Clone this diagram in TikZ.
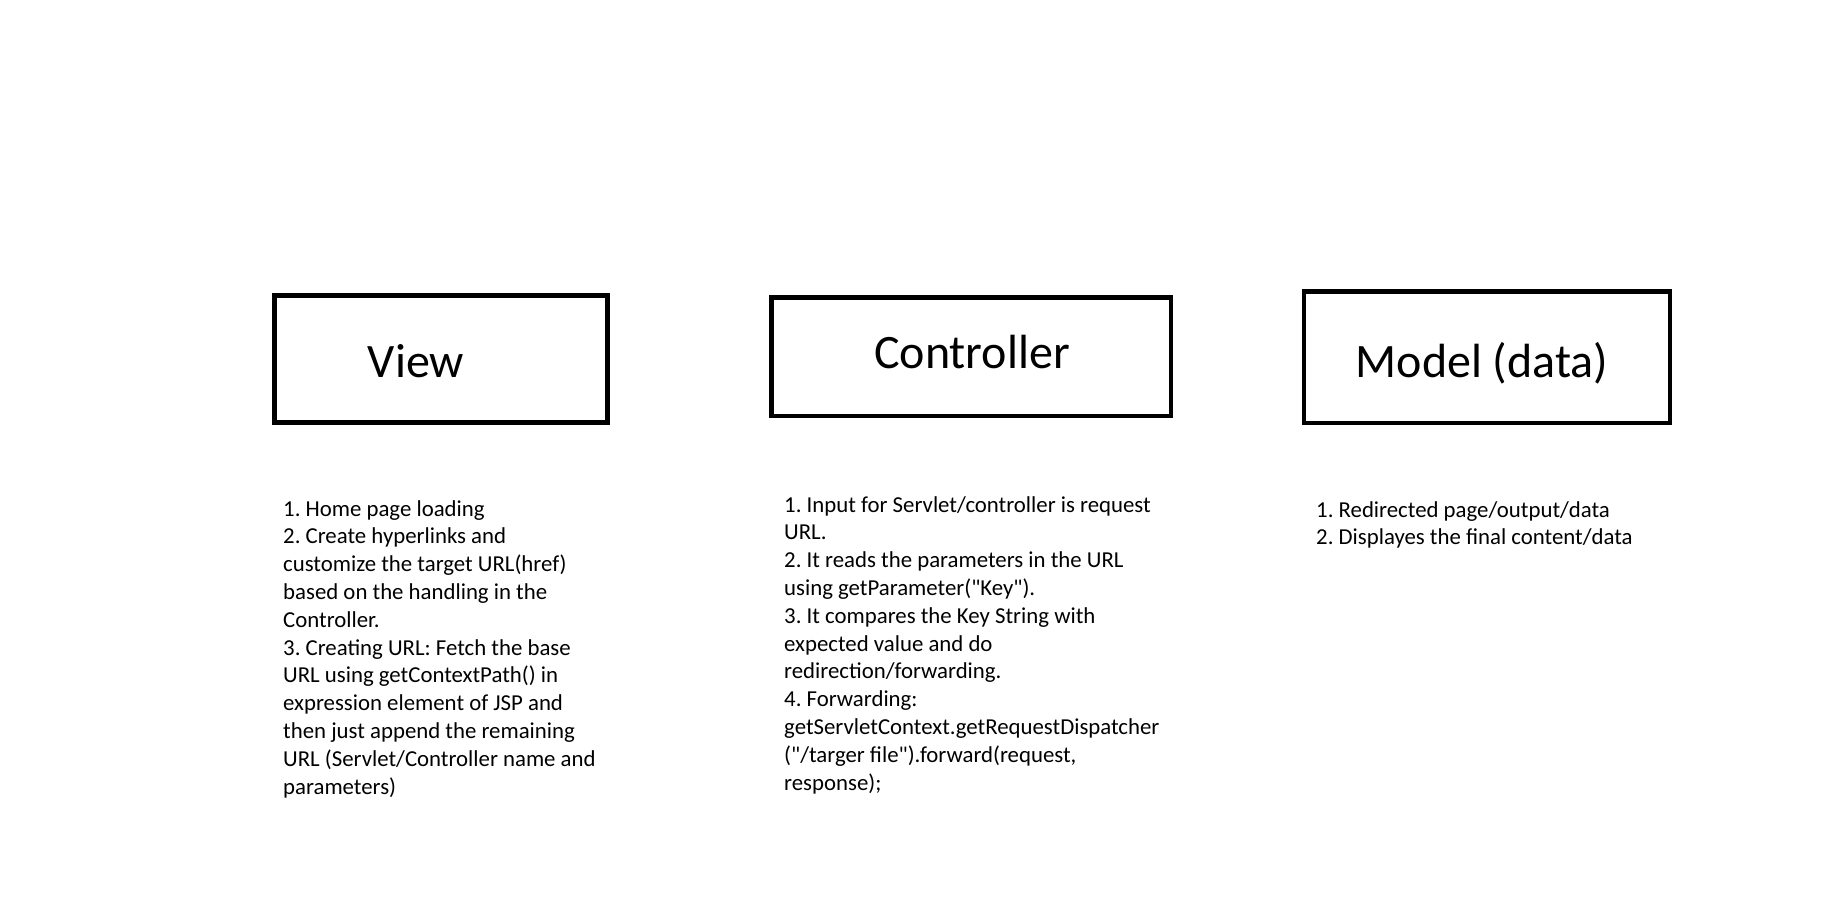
\documentclass[tikz,border=0pt]{standalone}
\usepackage{fontspec}
\setmainfont{Carlito}[Ligatures=TeXOff]
\newcommand{\lines}[1]{\vtop{\frenchspacing\def\\{\egroup\hbox\bgroup\ignorespaces}\hbox\bgroup\ignorespaces#1\egroup}}
\begin{document}
\begin{tikzpicture}[x=1pt,y=-1pt,
  box/.style={draw=black,line width=4.7pt,rectangle,inner sep=0pt},
  title/.style={inner sep=0pt,anchor=base,font=\fontsize{48}{56}\selectfont},
  body/.style={inner sep=0pt,anchor=base west,font=\fontsize{22.8}{27.8}\selectfont}]
\useasboundingbox[fill=white] (0,0) rectangle (1822,903);
% boxes
\node[box,minimum width=333pt,minimum height=127pt] (view) at (441,359) {};
\node[box,minimum width=399.5pt,minimum height=118.5pt] (ctrl) at (971.25,356.75) {};
\node[box,minimum width=366pt,minimum height=131.5pt] (model) at (1487,357.25) {};
% titles
\node[title] (viewlbl) at (416,377) {View};
\node[title] (ctrllbl) at (972,368) {Controller};
\node[title] (modellbl) at (1482,377) {Model (data)};
% descriptions
\node[body] (vtext) at (283,516) {\lines{1. Home page loading\\
2. Create hyperlinks and\\
customize the target URL(href)\\
based on the handling in the\\
Controller.\\
3. Creating URL: Fetch the base\\
URL using getContextPath() in\\
expression element of JSP and\\
then just append the remaining\\
URL (Servlet/Controller name and\\
parameters)}};
\node[body] (ctext) at (784,512) {\lines{1. Input for Servlet/controller is request\\
URL.\\
2. It reads the parameters in the URL\\
using getParameter("Key").\\
3. It compares the Key String with\\
expected value and do\\
redirection/forwarding.\\
4. Forwarding:\\
getServletContext.getRequestDispatcher\\
("/targer file").forward(request,\\
response);}};
\node[body] (mtext) at (1316,517) {\lines{1. Redirected page/output/data\\
2. Displayes the final content/data}};
\end{tikzpicture}
\end{document}
